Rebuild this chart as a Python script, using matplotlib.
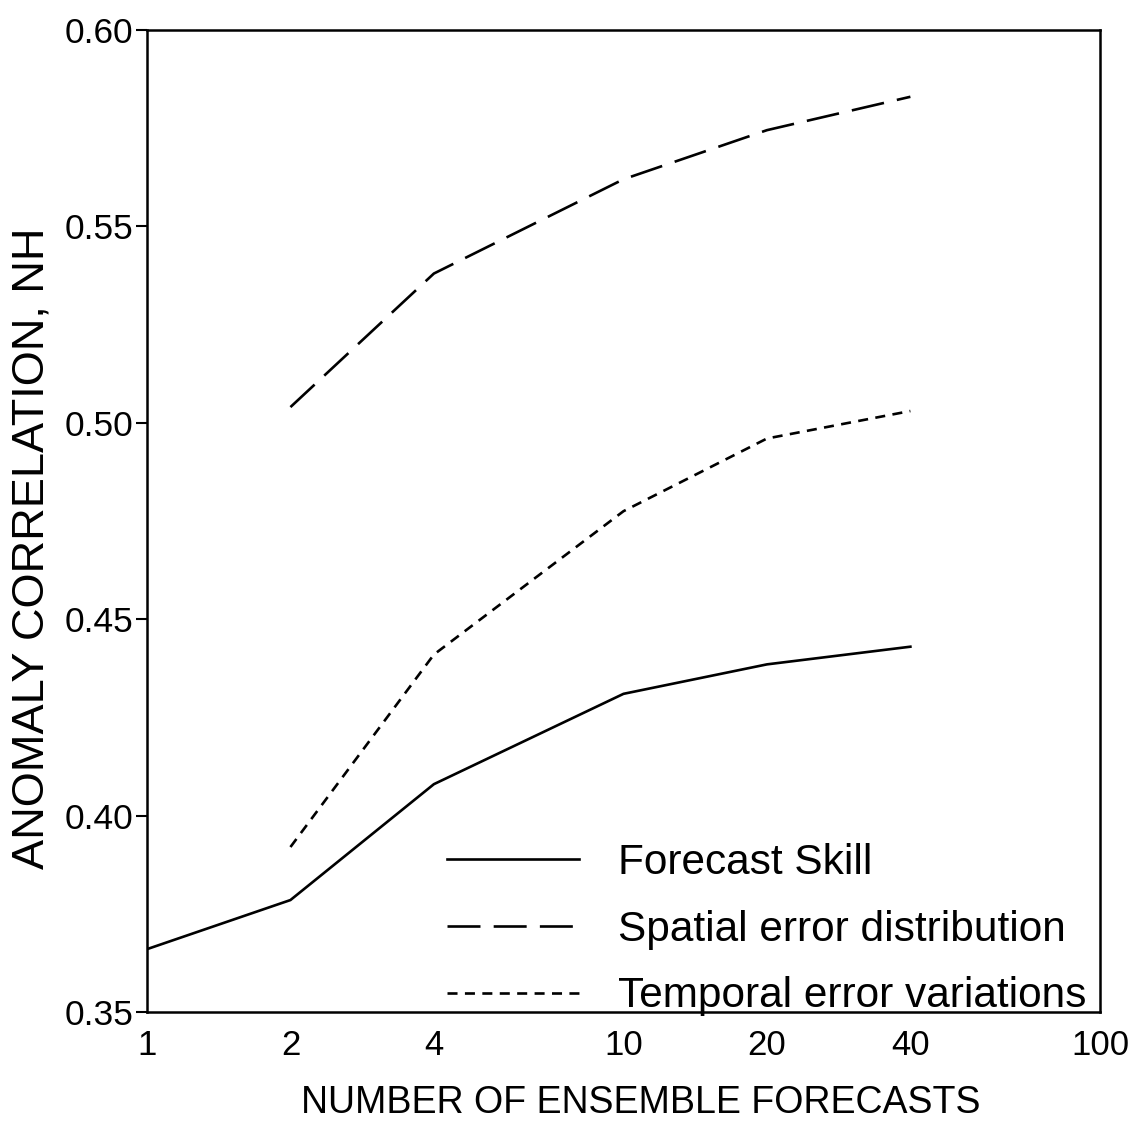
import matplotlib
matplotlib.use("Agg")
import matplotlib.pyplot as plt
from matplotlib.ticker import FixedLocator, NullLocator

plt.rcParams['font.family'] = ['Liberation Sans', 'DejaVu Sans']

# Ensemble sizes and anomaly correlation (NH)
n_skill = [1, 2, 4, 10, 20, 40]
forecast_skill = [0.366, 0.3785, 0.408, 0.431, 0.4385, 0.443]

n_err = [2, 4, 10, 20, 40]
spatial_error = [0.504, 0.538, 0.562, 0.5745, 0.583]
temporal_error = [0.392, 0.441, 0.4775, 0.496, 0.503]

x_ticks = [1, 2, 4, 10, 20, 40, 100]
y_ticks = [0.35, 0.40, 0.45, 0.50, 0.55, 0.60]

fig = plt.figure(figsize=(11.33, 11.27), dpi=100)
ax = fig.add_axes([147 / 1133, 1 - 1012 / 1127, 953 / 1133, 982 / 1127])

lw = 1.9
ax.plot(n_skill, forecast_skill, color='black', lw=lw, linestyle='-',
        label='Forecast Skill')
ax.plot(n_err, spatial_error, color='black', lw=lw, linestyle=(0, (12.5, 5)),
        label='Spatial error distribution')
ax.plot(n_err, temporal_error, color='black', lw=lw, linestyle=(0, (3.8, 2.8)),
        label='Temporal error variations')

ax.set_xscale('log')
ax.set_xlim(1, 100)
ax.set_ylim(0.35, 0.60)
ax.xaxis.set_major_locator(FixedLocator(x_ticks))
ax.xaxis.set_minor_locator(NullLocator())
ax.set_xticklabels([str(v) for v in x_ticks])
ax.set_yticks(y_ticks)
ax.set_yticklabels([f'{v:.2f}' for v in y_ticks])

ax.tick_params(axis='x', length=0, pad=12, labelsize=25)
ax.tick_params(axis='y', direction='out', length=8, width=1.5, pad=2, labelsize=25.5)
for sp in ax.spines.values():
    sp.set_linewidth(1.8)

ax.set_xlabel('NUMBER OF ENSEMBLE FORECASTS', fontsize=27)
ax.xaxis.set_label_coords(0.518, -0.074)
ax.set_ylabel('ANOMALY CORRELATION, NH', fontsize=32.5)
ax.yaxis.set_label_coords(-0.099, 0.4725)

leg = ax.legend(loc='upper left', bbox_to_anchor=(0.315, 0.172), frameon=False,
                fontsize=30.5, handlelength=3.1, handletextpad=0.93,
                labelspacing=0.63, borderpad=0, borderaxespad=0)
for h in leg.get_lines():
    h.set_linewidth(lw)

fig.savefig('out.png', dpi=100, facecolor='white')
